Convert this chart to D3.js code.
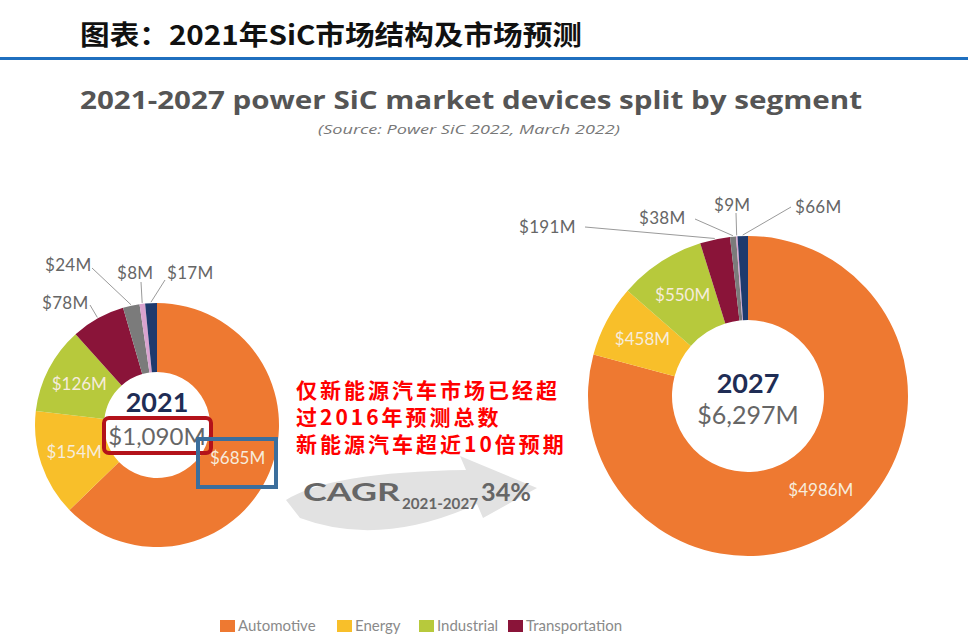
<!DOCTYPE html>
<html>
<head>
<meta charset="utf-8">
<title>2021年SiC市场结构及市场预测</title>
<script src="https://cdn.jsdelivr.net/npm/d3@7"></script>
<style>
  body { margin: 0; background: #fff; }
  svg { display: block; }
</style>
</head>
<body>
<div id="chart"></div>
<script>
// segments, clockwise from 12 o'clock
const segments = ["Automotive", "Energy", "Industrial", "Transportation", "Telecom & Infrastructure", "Consumer", "Others"];
const values2021 = [685, 154, 126, 78, 24, 8, 17];
const values2027 = [4986, 458, 550, 191, 38, 9, 66];
const legendItems = ["Automotive", "Energy", "Industrial", "Transportation"];
const totals = ["$1,090M", "$6,297M"];
const years = ["2021", "2027"];
const redNote = ["仅新能源汽车市场已经超", "过2016年预测总数", "新能源汽车超近10倍预期"];

const width = 968, height = 635;
const color = d3.scaleOrdinal()
    .domain(segments)
    .range(["#ee7931", "#f8bf2a", "#b7c93c", "#8a1439", "#7b7b7b", "#d9a3cf", "#1e3a6d"]);

const svg = d3.select("#chart").append("svg")
    .attr("width", width)
    .attr("height", height);

// header
svg.append("text")
    .attr("x", 80).attr("y", 45)
    .attr("font-family", "'Noto Sans CJK SC'")
    .attr("font-weight", 700)
    .attr("font-size", 27)
    .attr("textLength", 502)
    .attr("lengthAdjust", "spacingAndGlyphs")
    .attr("fill", "#111")
    .text("图表：2021年SiC市场结构及市场预测");

svg.append("rect")
    .attr("x", 0).attr("y", 57)
    .attr("width", width).attr("height", 3)
    .attr("fill", "#1f6fbf");

svg.append("text")
    .attr("x", 80).attr("y", 109)
    .attr("font-family", "'Open Sans'")
    .attr("font-weight", 700)
    .attr("font-size", 25)
    .attr("textLength", 782)
    .attr("lengthAdjust", "spacingAndGlyphs")
    .attr("fill", "#555")
    .text("2021-2027 power SiC market devices split by segment");

svg.append("text")
    .attr("x", 318).attr("y", 134)
    .attr("font-family", "'Open Sans'")
    .attr("font-style", "italic")
    .attr("font-size", 13)
    .attr("textLength", 302)
    .attr("lengthAdjust", "spacingAndGlyphs")
    .attr("fill", "#777")
    .text("(Source: Power SiC 2022, March 2022)");

// donuts
const pie = d3.pie().sort(null).value(d => d.value);

const donuts = [
    { values: values2021, cx: 157, cy: 425, r: 122, r0: 53, labelSize: 17, mid: 0.5,
      outside: [
          { i: 3, x: 42, y: 309, lx: 90, ly: 305 },
          { i: 4, x: 45, y: 271, lx: 92, ly: 268 },
          { i: 5, x: 117, y: 279, lx: 141, ly: 282 },
          { i: 6, x: 167, y: 279, lx: 165, ly: 280 }
      ],
      yearY: 412, totalY: 445, totalSize: 24 },
    { values: values2027, cx: 748, cy: 396, r: 160, r0: 76, labelSize: 17, mid: 0.52,
      outside: [
          { i: 3, x: 519, y: 233, lx: 585, ly: 227 },
          { i: 4, x: 639, y: 224, lx: 695, ly: 219 },
          { i: 5, x: 714, y: 211, lx: 736, ly: 213 },
          { i: 6, x: 795, y: 213, lx: 791, ly: 207 }
      ],
      yearY: 393, totalY: 424, totalSize: 25 }
];

donuts.forEach((dn, k) => {
    const data = pie(dn.values.map((v, i) => ({ key: segments[i], value: v })));
    const arc = d3.arc().innerRadius(dn.r0).outerRadius(dn.r);
    const g = svg.append("g").attr("transform", `translate(${dn.cx},${dn.cy})`);

    g.selectAll("path")
        .data(data)
        .join("path")
        .attr("d", arc)
        .attr("fill", d => color(d.data.key));

    // labels inside the ring (first three segments)
    const mid = dn.r0 + (dn.r - dn.r0) * dn.mid;
    g.selectAll(".in-label")
        .data(data.slice(0, 3))
        .join("text")
        .attr("class", "in-label")
        .attr("transform", d => {
            const a = (d.startAngle + d.endAngle) / 2;
            return `translate(${mid * Math.sin(a)},${-mid * Math.cos(a) + 5})`;
        })
        .attr("text-anchor", "middle")
        .attr("font-family", "Lato")
        .attr("font-size", dn.labelSize)
        .attr("fill", "#f6ecdc")
        .text(d => `$${d.data.value}M`);

    // small slices labelled outside with leader lines
    dn.outside.forEach(o => {
        const d = data[o.i];
        const a = (d.startAngle + d.endAngle) / 2;
        svg.append("line")
            .attr("x1", o.lx).attr("y1", o.ly)
            .attr("x2", dn.cx + (dn.r + 1) * Math.sin(a))
            .attr("y2", dn.cy - (dn.r + 1) * Math.cos(a))
            .attr("stroke", "#9a9a9a")
            .attr("stroke-width", 1);
        svg.append("text")
            .attr("x", o.x).attr("y", o.y)
            .attr("font-family", "Lato")
            .attr("font-size", 17)
            .attr("letter-spacing", 0.3)
            .attr("fill", "#666")
            .text(`$${d.data.value}M`);
    });

    g.append("text")
        .attr("y", dn.yearY - dn.cy)
        .attr("text-anchor", "middle")
        .attr("font-family", "Lato")
        .attr("font-weight", 700)
        .attr("font-size", 27)
        .attr("fill", "#1f2d55")
        .text(years[k]);

    g.append("text")
        .attr("y", dn.totalY - dn.cy)
        .attr("text-anchor", "middle")
        .attr("font-family", "Lato")
        .attr("font-size", dn.totalSize)
        .attr("fill", "#666")
        .text(totals[k]);
});

// highlight boxes
svg.append("rect")
    .attr("x", 104).attr("y", 418)
    .attr("width", 107).attr("height", 35)
    .attr("rx", 5)
    .attr("fill", "none")
    .attr("stroke", "#b3121a")
    .attr("stroke-width", 4);

svg.append("rect")
    .attr("x", 198).attr("y", 439)
    .attr("width", 78).attr("height", 48)
    .attr("fill", "none")
    .attr("stroke", "#3b6e9c")
    .attr("stroke-width", 4);

// CAGR arrow
svg.append("path")
    .attr("d", "M286,500 Q330,472 466,470 L460,456 L537,488 L483,518 L477,504 Q380,548 300,518 Z")
    .attr("fill", "#e2e2e2");

const cagrParts = [
    { t: "CAGR", x: 303, y: 501, w: 97, size: 25 },
    { t: "2021-2027", x: 402, y: 509, w: 76, size: 16 },
    { t: "34%", x: 481, y: 501, w: 50, size: 25 }
];
svg.append("g").selectAll("text")
    .data(cagrParts)
    .join("text")
    .attr("x", d => d.x).attr("y", d => d.y)
    .attr("textLength", d => d.w)
    .attr("lengthAdjust", "spacingAndGlyphs")
    .attr("font-family", "Lato")
    .attr("font-weight", 700)
    .attr("font-size", d => d.size)
    .attr("fill", "#666")
    .text(d => d.t);

// red note
svg.append("g").selectAll("text")
    .data(redNote)
    .join("text")
    .attr("x", 296)
    .attr("y", (d, i) => 398 + i * 27)
    .attr("font-family", "'Noto Sans CJK SC'")
    .attr("font-weight", 700)
    .attr("font-size", 21)
    .attr("letter-spacing", 3)
    .attr("fill", "#ff0000")
    .text(d => d);

// legend
const legendX = [220, 337, 419, 508];
const lg = svg.append("g").selectAll("g")
    .data(legendItems)
    .join("g")
    .attr("transform", (d, i) => `translate(${legendX[i]},620)`);
lg.append("rect")
    .attr("width", 15).attr("height", 12)
    .attr("fill", d => color(d));
lg.append("text")
    .attr("x", 18).attr("y", 11)
    .attr("font-family", "Lato")
    .attr("font-size", 15)
    .attr("fill", "#8a8a8a")
    .text(d => d);
</script>
</body>
</html>
